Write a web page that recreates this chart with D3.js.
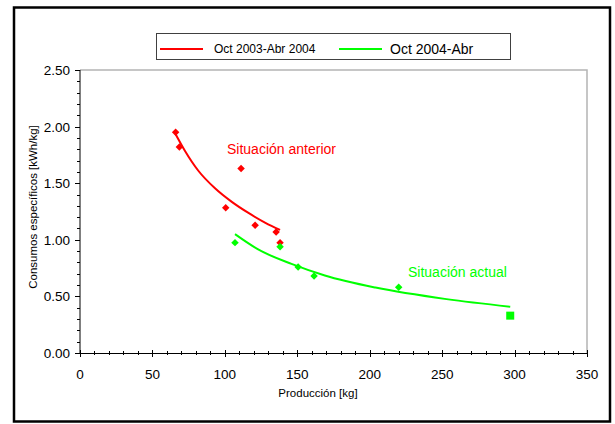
<!DOCTYPE html>
<html>
<head>
<meta charset="utf-8">
<script src="https://cdn.jsdelivr.net/npm/d3@7/dist/d3.min.js"></script>
<style>
  html, body { margin: 0; padding: 0; background: #fff; }
  svg { display: block; font-family: "Liberation Sans", Arial, sans-serif; }
</style>
</head>
<body>
<svg id="chart" width="615" height="424"></svg>
<script>
// ---- Data ----
const redX = [66, 68.6, 111.2, 100.6, 120.9, 135.4, 138.1];
const redY = [1.95, 1.82, 1.63, 1.284, 1.128, 1.069, 0.975];
const greenX = [107, 138.1, 150.6, 161.6, 220];
const greenY = [0.975, 0.939, 0.76, 0.68, 0.58];
const squareX = [297];
const squareY = [0.33];
// trend lines
const redTrendX = [65.1, 72.5, 81.7, 93.2, 104.8, 116.3, 128, 138.1];
const redTrendY = [1.955, 1.785, 1.61, 1.455, 1.335, 1.237, 1.15, 1.087];
const greenTrendX = [107, 123, 146, 169, 204, 253, 297];
const greenTrendY = [1.05, 0.915, 0.787, 0.685, 0.578, 0.476, 0.409];
const xTicks = [0, 50, 100, 150, 200, 250, 300, 350];
const yTicks = [0, 0.5, 1.0, 1.5, 2.0, 2.5];
const legendLabels = ["Oct 2003-Abr 2004", "Oct 2004-Abr"];
const xTitle = "Producción [kg]";
const yTitle = "Consumos específicos [kWh/kg]";
const annoRed = "Situación anterior";
const annoGreen = "Situación actual";

const RED = "#ff0000", GREEN = "#00ff00";
const svg = d3.select("#chart");

const L = 80, R = 587, T = 70, B = 353;
const x = d3.scaleLinear().domain([0, 350]).range([L, R]);
const y = d3.scaleLinear().domain([0, 2.5]).range([B, T]);

// outer frame
svg.append("rect").attr("x", 14).attr("y", 7.5).attr("width", 596).attr("height", 414)
  .attr("fill", "none").attr("stroke", "#000").attr("stroke-width", 2.5);

// plot area border (top & right, gray)
svg.append("path").attr("d", `M${L},${T}H${R}V${B}`)
  .attr("fill", "none").attr("stroke", "#b4b4b4").attr("stroke-width", 1.5);

// Y axis
const yMinor = d3.range(0, 2.5001, 0.1);
const yAxisG = svg.append("g").attr("transform", `translate(${L},0)`);
yAxisG.append("line").attr("x1", 0).attr("x2", 0).attr("y1", T).attr("y2", B + 1).attr("stroke", "#000");
yAxisG.selectAll("line.minor").data(yMinor).join("line").attr("class", "minor")
  .attr("x1", -3).attr("x2", 0).attr("y1", d => Math.round(y(d)) + 0.5).attr("y2", d => Math.round(y(d)) + 0.5)
  .attr("stroke", "#000");
yAxisG.selectAll("line.major").data(yTicks).join("line").attr("class", "major")
  .attr("x1", -5).attr("x2", 0).attr("y1", d => Math.round(y(d)) + 0.5).attr("y2", d => Math.round(y(d)) + 0.5)
  .attr("stroke", "#000");
yAxisG.selectAll("text").data(yTicks).join("text")
  .attr("x", -10).attr("y", d => y(d) + 5)
  .attr("text-anchor", "end").attr("font-size", 13.5).attr("fill", "#000")
  .text(d => d3.format(".2f")(d));

// X axis
const xMinor = d3.range(0, 350.001, 10);
const xAxisG = svg.append("g").attr("transform", `translate(0,${B})`);
xAxisG.append("line").attr("x1", L).attr("x2", R).attr("y1", 0.5).attr("y2", 0.5).attr("stroke", "#000");
xAxisG.selectAll("line.minor").data(xMinor).join("line").attr("class", "minor")
  .attr("x1", d => Math.round(x(d)) + 0.5).attr("x2", d => Math.round(x(d)) + 0.5).attr("y1", -2).attr("y2", 2)
  .attr("stroke", "#000");
xAxisG.selectAll("line.major").data(xTicks).join("line").attr("class", "major")
  .attr("x1", d => Math.round(x(d)) + 0.5).attr("x2", d => Math.round(x(d)) + 0.5).attr("y1", -3).attr("y2", 4)
  .attr("stroke", "#000");
xAxisG.selectAll("text").data(xTicks).join("text")
  .attr("x", d => x(d)).attr("y", 26)
  .attr("text-anchor", "middle").attr("font-size", 13.5).attr("fill", "#000")
  .text(d => d);

// axis titles
svg.append("text").attr("x", 318).attr("y", 397).attr("text-anchor", "middle")
  .attr("font-size", 11.5).attr("fill", "#000").text(xTitle);
svg.append("text").attr("transform", `translate(37,207) rotate(-90)`).attr("text-anchor", "middle")
  .attr("font-size", 11.5).attr("fill", "#000").text(yTitle);

// trend lines
const line = d3.line().x(d => x(d[0])).y(d => y(d[1])).curve(d3.curveMonotoneX);
svg.append("path").datum(d3.zip(redTrendX, redTrendY)).attr("d", line)
  .attr("fill", "none").attr("stroke", RED).attr("stroke-width", 2);
svg.append("path").datum(d3.zip(greenTrendX, greenTrendY)).attr("d", line)
  .attr("fill", "none").attr("stroke", GREEN).attr("stroke-width", 2);

// markers
function diamonds(xs, ys, color) {
  svg.append("g").selectAll("path").data(d3.zip(xs, ys)).join("path")
    .attr("d", d3.symbol().type(d3.symbolSquare).size(28))
    .attr("transform", d => `translate(${x(d[0])},${y(d[1])}) rotate(45)`)
    .attr("fill", color);
}
diamonds(redX, redY, RED);
diamonds(greenX, greenY, GREEN);
svg.append("g").selectAll("rect").data(d3.zip(squareX, squareY)).join("rect")
  .attr("x", d => x(d[0]) - 4).attr("y", d => y(d[1]) - 4).attr("width", 8).attr("height", 8)
  .attr("fill", GREEN);

// annotations
svg.append("text").attr("x", 227).attr("y", 154).attr("font-size", 14).attr("fill", RED).text(annoRed);
svg.append("text").attr("x", 408).attr("y", 277).attr("font-size", 14).attr("fill", GREEN).text(annoGreen);

// legend
const leg = svg.append("g");
svg.append("defs").append("clipPath").attr("id", "legclip")
  .append("rect").attr("x", 156).attr("y", 33).attr("width", 355).attr("height", 26);
leg.append("rect").attr("x", 156.5).attr("y", 33.5).attr("width", 354).attr("height", 26)
  .attr("fill", "#fff").attr("stroke", "#404040").attr("stroke-width", 1);
leg.append("text").attr("x", 164).attr("y", 67.5).attr("font-size", 13).attr("fill", "#000")
  .attr("clip-path", "url(#legclip)").text("2005");
leg.append("line").attr("x1", 160).attr("x2", 203).attr("y1", 49).attr("y2", 49)
  .attr("stroke", RED).attr("stroke-width", 2);
leg.append("text").attr("x", 214).attr("y", 52.5).attr("font-size", 12).attr("fill", "#000").text(legendLabels[0]);
leg.append("line").attr("x1", 339).attr("x2", 382).attr("y1", 49).attr("y2", 49)
  .attr("stroke", GREEN).attr("stroke-width", 2);
leg.append("text").attr("x", 390).attr("y", 53.5).attr("font-size", 14).attr("fill", "#000").text(legendLabels[1]);
</script>
</body>
</html>
